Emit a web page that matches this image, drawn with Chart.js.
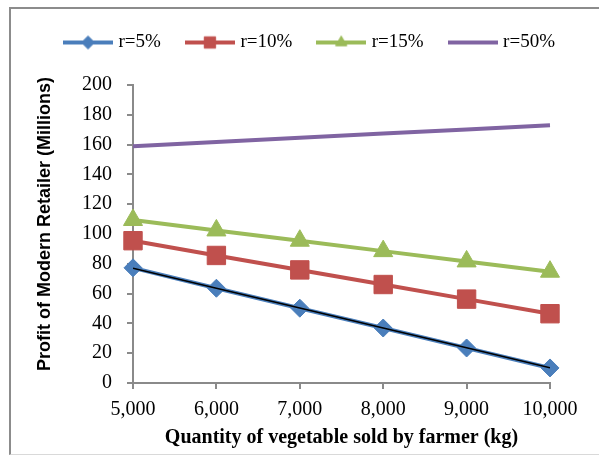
<!DOCTYPE html>
<html lang="en">
<head>
  <meta charset="UTF-8">
  <title>Profit of Modern Retailer</title>
  <script src="https://cdn.jsdelivr.net/npm/chart.js"></script>
  <style>
    html, body {margin: 0; padding: 0; background: #fff;}
    .wrap {position: relative; width: 599px; height: 456px; overflow: hidden;}
    .frame {position: absolute; left: 9px; top: 7px; width: 660px; height: 445px; border-left: 2px solid #8c8c8c; border-top: 2px solid #8c8c8c; border-bottom: 1px solid #d9d9d9;}
    canvas {position: absolute; left: 0; top: 0;}
  </style>
</head>
<body>
  <div class="wrap">
    <div class="frame"></div>
    <canvas id="profitChart" width="599" height="456"></canvas>
  </div>
  <script>
    // values (profit in millions)
    const quantities = [5000, 6000, 7000, 8000, 9000, 10000];
    const seriesNames = ['r=5%', 'r=10%', 'r=15%', 'r=50%'];
    const profit5 = [77.3, 63.6, 50.2, 36.9, 23.5, 10.1];
    const profit10 = [95.5, 85.6, 75.9, 66.1, 56.3, 46.5];
    const profit15 = [109.4, 102.4, 95.5, 88.5, 81.6, 74.7];
    const profit50 = [158.9, 161.8, 164.6, 167.4, 170.2, 173.0];
    const trend5 = [77.0, 63.6, 50.3, 36.9, 23.6, 10.3];
    const yMin = 0, yMax = 200, yStep = 20;
    const xMin = 5000, xMax = 10000, xStep = 1000;

    const colors = ['#4a7ebb', '#c0504d', '#9bbb59', '#8064a2'];
    const shapes = ['rectRot', 'rect', 'triangle', false];
    const serif = "'Liberation Serif', 'Times New Roman', serif";
    const sans = "'Liberation Sans Narrow', 'Liberation Sans', Arial, sans-serif";
    const axisGrey = '#8a8a8a';

    function toPoints(vals) { return quantities.map((q, i) => ({x: q, y: vals[i]})); }

    // little line + marker pictures for the legend, like the Excel one
    function legendIcon(color, shape) {
      const c = document.createElement('canvas');
      c.width = 50; c.height = 22;
      const g = c.getContext('2d');
      g.strokeStyle = color; g.fillStyle = color; g.lineWidth = 4;
      g.beginPath(); g.moveTo(0, 11); g.lineTo(50, 11); g.stroke();
      if (shape) {
        g.lineWidth = 1;
        const r = shape === 'rect' ? 8 : 6.5;
        Chart.helpers.drawPoint(g, {pointStyle: shape, radius: r, borderWidth: 1, rotation: 0}, 25, 11);
      }
      return c;
    }
    const legendIcons = colors.map((c, i) => legendIcon(c, shapes[i]));

    const legendGap = {
      id: 'legendGap',
      beforeUpdate(chart) {
        const lg = chart.legend;
        if (lg && !lg.gapPatched) {
          const fit = lg.fit;
          lg.fit = function () { fit.call(this); this.height += 23; };
          lg.gapPatched = true;
        }
      }
    };

    const pointSizes = [9, 13, 11, 0];
    const seriesValues = [profit5, profit10, profit15, profit50];
    const datasets = seriesValues.map((vals, i) => ({
      label: seriesNames[i],
      data: toPoints(vals),
      borderColor: colors[i],
      backgroundColor: colors[i],
      borderWidth: 4,
      pointStyle: shapes[i] || 'circle',
      pointRadius: pointSizes[i],
      pointBorderWidth: 1,
      pointBackgroundColor: colors[i],
      pointBorderColor: colors[i],
      tension: 0,
      clip: false,
      order: i + 1
    }));
    datasets.push({
      label: 'Linear (r=5%)',
      data: toPoints(trend5),
      borderColor: '#000',
      borderWidth: 1.5,
      pointRadius: 0,
      tension: 0,
      order: -1
    });

    new Chart(document.getElementById('profitChart'), {
      type: 'line',
      data: {datasets},
      plugins: [legendGap],
      options: {
        responsive: false,
        animation: false,
        layout: {padding: {left: 23, right: 0, top: 5, bottom: 0}},
        plugins: {
          tooltip: {enabled: false},
          legend: {
            position: 'top',
            labels: {
              usePointStyle: true,
              pointStyleWidth: 42,
              padding: 28,
              color: '#000',
              font: {family: serif, size: 19},
              filter: item => item.datasetIndex < 4,
              generateLabels(chart) {
                const items = Chart.defaults.plugins.legend.labels.generateLabels(chart);
                items.forEach(it => { it.pointStyle = legendIcons[it.datasetIndex]; });
                return items;
              }
            }
          }
        },
        scales: {
          x: {
            type: 'linear', min: xMin, max: xMax,
            ticks: {stepSize: xStep, color: '#000', font: {family: serif, size: 20}, padding: 9, maxRotation: 0},
            grid: {drawOnChartArea: false, drawTicks: true, tickLength: 6, color: axisGrey, lineWidth: 2},
            border: {color: axisGrey, width: 2},
            title: {display: true, text: 'Quantity of vegetable sold by farmer (kg)', color: '#000',
              font: {family: serif, size: 20, weight: 'bold'}, padding: {top: 0, bottom: 6.5}},
            afterFit(scale) { scale.height = 73; scale.paddingRight = 49; }
          },
          y: {
            min: yMin, max: yMax,
            ticks: {stepSize: yStep, color: '#000', font: {family: serif, size: 20}, padding: 15},
            grid: {drawOnChartArea: false, drawTicks: true, tickLength: 6, color: axisGrey, lineWidth: 2},
            border: {color: axisGrey, width: 2},
            title: {display: true, text: '    Profit of Modern Retailer (Millions)', color: '#000',
              font: {family: sans, size: 18, weight: 'bold'}, padding: {top: 11, bottom: 0}},
            afterFit(scale) { scale.width = 110; }
          }
        }
      }
    });
  </script>
</body>
</html>
